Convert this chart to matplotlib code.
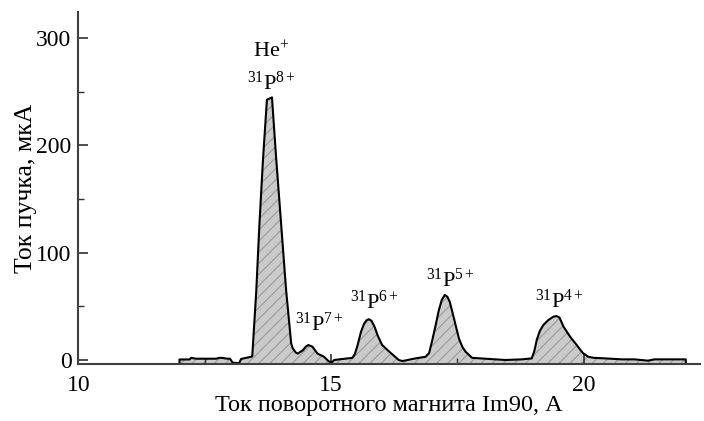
import matplotlib
matplotlib.use("Agg")
import matplotlib.pyplot as plt
from matplotlib.ticker import MultipleLocator

plt.rcParams['font.family'] = ['Liberation Serif', 'DejaVu Serif']
plt.rcParams['mathtext.fontset'] = 'custom'
plt.rcParams['mathtext.rm'] = 'Liberation Serif'
plt.rcParams['mathtext.it'] = 'Liberation Serif:italic'
plt.rcParams['mathtext.bf'] = 'Liberation Serif:bold'
plt.rcParams['hatch.linewidth'] = 0.8

# Data
x_current = [12.0, 12.05, 12.2, 12.23, 12.33, 12.73, 12.78, 12.83, 12.95, 13.0, 13.05, 13.18,
             13.22, 13.42, 13.44, 13.52, 13.58, 13.65, 13.73, 13.83, 13.91, 14.01, 14.11, 14.21,
             14.24, 14.30, 14.34, 14.44, 14.50, 14.55, 14.63, 14.73, 14.86, 14.96, 15.02, 15.06,
             15.42, 15.47, 15.52, 15.59, 15.65, 15.70, 15.75, 15.80, 15.86, 15.92, 16.01, 16.15,
             16.34, 16.41, 16.67, 16.87, 16.94, 17.00, 17.07, 17.13, 17.19, 17.25, 17.30, 17.35,
             17.43, 17.53, 17.60, 17.66, 17.79, 18.12, 18.25, 18.45, 18.78, 18.97, 19.02, 19.07,
             19.13, 19.20, 19.30, 19.40, 19.46, 19.52, 19.60, 19.73, 19.86, 19.94, 19.99, 20.09,
             20.20, 20.42, 20.75, 21.0, 21.27, 21.4, 22.0, 22.02]
y_beam = [0.5, 0.5, 0.5, 2, 1.2, 1.2, 2, 2, 1.2, 1.2, -2.5, -3,
          1, 3, 3.5, 65, 125, 185, 242.5, 244.7, 190, 127.5, 65, 15.5,
          11, 7, 6, 9, 12.5, 14, 12.4, 6, 3, -1.5, -2, 0,
          2, 5.5, 13, 26, 33.5, 37, 38, 36.5, 31, 23, 14, 7.8,
          0, -1, 1.5, 3, 6.5, 18, 32.6, 46, 56, 60.6, 59, 54,
          39, 20, 12, 7.8, 2, 1, 0.6, 0, 0.6, 1.5, 8, 18.7,
          27, 32.6, 37.3, 40.4, 41, 39.5, 31, 21.7, 14, 9, 6.2, 3,
          2, 1.5, 0.6, 0.6, -0.6, 0.6, 0.6, 0.6]

peak_labels = [r'$\mathrm{He}^{+}$', r'$^{31}\mathrm{P}^{8+}$', r'$^{31}\mathrm{P}^{7+}$',
               r'$^{31}\mathrm{P}^{6+}$', r'$^{31}\mathrm{P}^{5+}$', r'$^{31}\mathrm{P}^{4+}$']
label_x = [13.82, 13.82, 14.77, 15.85, 17.37, 19.52]
label_y = [287, 258, 33, 54, 74, 55]

xlim = (10, 22.3)
ylim = (-4, 324)

fig = plt.figure(figsize=(7.04, 4.21), dpi=100)
ax = fig.add_axes([0.1114, 0.1347, 0.8829, 0.8361])

base = ylim[0]
xs = [x_current[0]] + x_current + [x_current[-1]]
ys = [base] + y_beam + [base]
ax.fill_between(xs, ys, base, facecolor='#cacaca', edgecolor='#9a9a9a', hatch='///',
                linewidth=0, zorder=1)
ax.plot(xs, ys, color='black', lw=1.5, zorder=2)

for t, lx, ly in zip(peak_labels, label_x, label_y):
    ax.text(lx, ly, t, ha='center', va='center', fontsize=16)

ax.set_xlim(*xlim)
ax.set_ylim(*ylim)
ax.xaxis.set_major_locator(MultipleLocator(5))
ax.xaxis.set_minor_locator(MultipleLocator(2.5))
ax.yaxis.set_major_locator(MultipleLocator(100))
ax.yaxis.set_minor_locator(MultipleLocator(50))

for s in ['top', 'right']:
    ax.spines[s].set_visible(False)
for s in ['left', 'bottom']:
    ax.spines[s].set_linewidth(1.5)
    ax.spines[s].set_color('#404040')

ax.tick_params(which='major', direction='in', length=7, width=1.2, color='#303030',
               labelsize=17, pad=5)
ax.tick_params(which='minor', direction='in', length=4, width=1.0, color='#303030')
ax.tick_params(axis='x', which='major', pad=8)

ax.set_xlabel('Ток поворотного магнита Im90, А', fontsize=17.5, labelpad=-1)
ax.set_ylabel('Ток пучка, мкА', fontsize=18.5, labelpad=-1)

fig.savefig('out.png', dpi=100)
